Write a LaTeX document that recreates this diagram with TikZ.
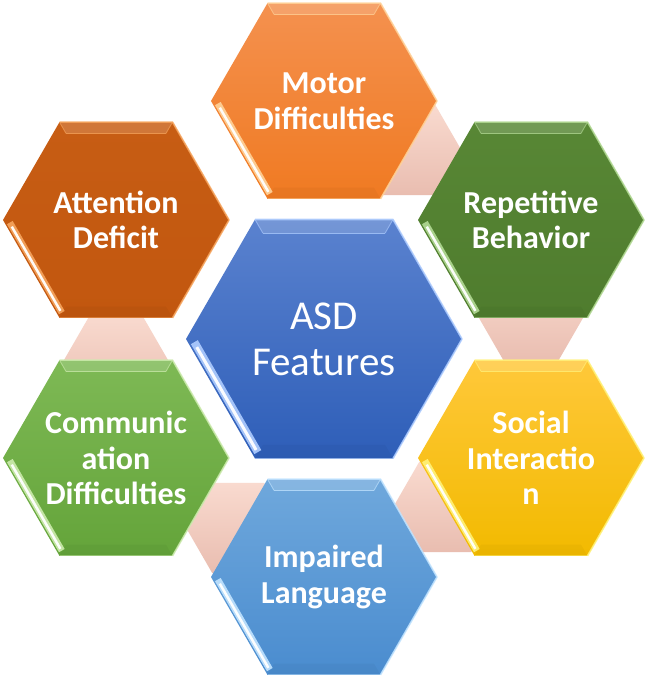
\documentclass[tikz,border=0pt]{standalone}
\usepackage{fontspec}
\setmainfont{Carlito}
\usetikzlibrary{calc}
\definecolor{motT}{HTML}{F4914F}\definecolor{motB}{HTML}{F07A22}\definecolor{motL}{HTML}{FFD39A}
\definecolor{attT}{HTML}{C75D14}\definecolor{attB}{HTML}{C2570F}\definecolor{attL}{HTML}{F6A55E}
\definecolor{repT}{HTML}{588735}\definecolor{repB}{HTML}{4F7C2E}\definecolor{repL}{HTML}{B3DA95}
\definecolor{socT}{HTML}{FFC83A}\definecolor{socB}{HTML}{F2BA00}\definecolor{socL}{HTML}{FFF27A}
\definecolor{impT}{HTML}{6FA8DC}\definecolor{impB}{HTML}{4A8CCF}\definecolor{impL}{HTML}{C2E4FF}
\definecolor{comT}{HTML}{7EB955}\definecolor{comB}{HTML}{64A43A}\definecolor{comL}{HTML}{CDEBAE}
\definecolor{cenT}{HTML}{5A82CF}\definecolor{cenB}{HTML}{2E5EB8}\definecolor{cenL}{HTML}{AFCDFF}
\definecolor{pinkT}{HTML}{F9DACF}\definecolor{pinkB}{HTML}{E9BDB0}
\tikzset{
  hexlabel/.style={text=white, align=center, inner sep=0pt},
  boldtext/.style={font=\fontsize{32}{35.5}\selectfont\bfseries},
  bigtext/.style={font=\fontsize{41}{46}\selectfont},
}
\newcommand\hexpath[1]{(#1,0)--(#1*0.5,-#1*0.8660254)--(-#1*0.5,-#1*0.8660254)--(-#1,0)--(-#1*0.5,#1*0.8660254)--(#1*0.5,#1*0.8660254)--cycle}
% name, cx, cy, r, top, bottom, light, style, text
\newcommand\hexcell[9]{%
\begin{scope}[shift={(#2,#3)}]
\pgfmathsetmacro\R{#4}
\pgfmathsetmacro\H{0.8660254*#4}
\pgfmathsetmacro\Q{0.5*#4}
\pgfmathsetmacro\Ri{0.885*#4}
\pgfmathsetmacro\Hi{0.8660254*\Ri}
\pgfmathsetmacro\Qi{0.5*\Ri}
\path[top color=#5,bottom color=#6] \hexpath{\R};
% top bevel band
\fill[white,opacity=0.16] (\Q,-\H)--(-\Q,-\H)--(-\Qi,-\Hi)--(\Qi,-\Hi)--cycle;
\draw[#7,opacity=0.75,line width=1.4] (-\Qi,-\Hi)--(\Qi,-\Hi);
\draw[#7,opacity=0.6,line width=0.9] (-\Q,-\H)--(-\Qi,-\Hi) (\Q,-\H)--(\Qi,-\Hi);
% bottom bevel band (slightly darker)
\fill[black,opacity=0.03] (\Q,\H)--(-\Q,\H)--(-\Qi,\Hi)--(\Qi,\Hi)--cycle;
% right bevel outline
\draw[#7,line width=1.6,opacity=0.85,line join=round] (-\Q,-\H)--(\Q,-\H)--(\R,0)--(\Q,\H);
\draw[#7,line width=0.8,opacity=0.5] (\Q,\H)--(-\Q,\H);
% lower-left highlight
\fill[#7,opacity=0.9]
  ({\R*(-1+0.5*0.05+0.866*0.012)},{\R*(0.866*0.05-0.5*0.012)})--
  ({\R*(-1+0.5*0.97+0.866*0.012)},{\R*(0.866*0.97-0.5*0.012)})--
  ({\R*(-1+0.5*0.97+0.866*0.07)},{\R*(0.866*0.97-0.5*0.07)})--
  ({\R*(-1+0.5*0.05+0.866*0.07)},{\R*(0.866*0.05-0.5*0.07)})--cycle;
\draw[white,opacity=0.95,line width={0.022*\R}]
  ({\R*(-1+0.5*0.09+0.866*0.038)},{\R*(0.866*0.09-0.5*0.038)})--
  ({\R*(-1+0.5*0.95+0.866*0.038)},{\R*(0.866*0.95-0.5*0.038)});
\end{scope}
\node[hexlabel,#8] (#1) at (#2,#3) {#9};
}
\newcommand\linkhex[3]{%
\begin{scope}[shift={(#2,#3)}]
\path[top color=pinkT,bottom color=pinkB] \hexpath{52};
\end{scope}
\coordinate (#1) at (#2,#3);
}
\begin{document}
\begin{tikzpicture}[x=1pt,y=-1pt]
\useasboundingbox (0,0) rectangle (646,677);
\fill[white] (0,0) rectangle (646,677);
% connectors between neighbouring hexagons
\linkhex{l1}{409.3}{150.0}
\linkhex{l2}{531}{318}
\linkhex{l3}{445.2}{507}
\linkhex{l4}{238.2}{528}
\linkhex{l5}{116}{360}
% outer hexagons
\hexcell{motor}{324}{101}{113}{motT}{motB}{motL}{boldtext}{Motor\\Difficulties}
\hexcell{attention}{116}{220}{113}{attT}{attB}{attL}{boldtext}{Attention\\Deficit}
\hexcell{repetitive}{531}{220}{113}{repT}{repB}{repL}{boldtext}{Repetitive\\Behavior}
\hexcell{communication}{116}{458}{113}{comT}{comB}{comL}{boldtext}{Communic\\ation\\Difficulties}
\hexcell{social}{531}{458}{113}{socT}{socB}{socL}{boldtext}{Social\\Interactio\\n}
\hexcell{impaired}{324}{577}{113}{impT}{impB}{impL}{boldtext}{Impaired\\Language}
% centre
\hexcell{asd}{324}{339}{138}{cenT}{cenB}{cenL}{bigtext}{ASD\\Features}
\end{tikzpicture}
\end{document}
